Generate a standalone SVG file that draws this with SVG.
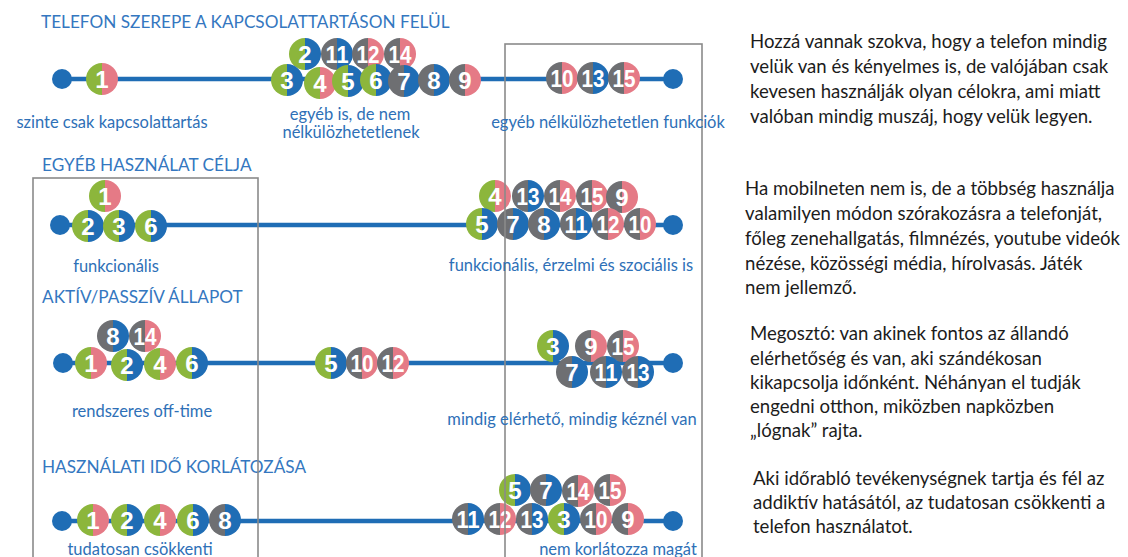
<svg xmlns="http://www.w3.org/2000/svg" xmlns:xlink="http://www.w3.org/1999/xlink" width="1128" height="557" viewBox="0 0 1128 557">
  <defs>
    <style>
      .axis { stroke: #1f6db5; stroke-width: 4.5; fill: none; }
      .dot { fill: #1f6db5; }
      .box { fill: none; stroke: #8a8a8a; stroke-width: 1.6; }
      .g { fill: #8cb63c; }
      .p { fill: #e57a86; }
      .k { fill: #6e6f72; }
      .b { fill: #1f6db5; }
      .num { font-family: "Liberation Sans", Arial, sans-serif; font-weight: bold; font-size: 24px; fill: #ffffff; text-anchor: middle; }
      .title { font-family: Lato, "Open Sans", sans-serif; font-size: 17.2px; fill: #3477c0; }
      .lbl { font-family: Lato, "Open Sans", sans-serif; font-size: 16.5px; fill: #2e70b7; text-anchor: middle; }
      .note { font-family: Lato, "Open Sans", sans-serif; font-size: 18.6px; fill: #1c1c1c; }
    </style>
    <!-- half discs, radius 16, split on the vertical diameter -->
    <path id="hl" d="M0,-16 A16,16 0 0 0 0,16 Z"/>
    <path id="hr" d="M0,-16 A16,16 0 0 1 0,16 Z"/>
  </defs>

  <rect width="1128" height="557" fill="#ffffff"/>

  <!-- section titles -->
  <text class="title" x="41" y="28">TELEFON SZEREPE A KAPCSOLATTARTÁSON FELÜL</text>
  <text class="title" x="42" y="171">EGYÉB HASZNÁLAT CÉLJA</text>
  <text class="title" x="42" y="303">AKTÍV/PASSZÍV ÁLLAPOT</text>
  <text class="title" x="42" y="473">HASZNÁLATI IDŐ KORLÁTOZÁSA</text>

  <!-- timelines -->
  <g id="connectors">
    <line class="axis" x1="62" y1="79" x2="673" y2="79"/>
    <circle class="dot" cx="62" cy="79" r="10"/>
    <circle class="dot" cx="673" cy="79" r="10"/>

    <line class="axis" x1="60" y1="225" x2="673" y2="225"/>
    <circle class="dot" cx="60" cy="225" r="10"/>
    <circle class="dot" cx="673" cy="225" r="10"/>

    <line class="axis" x1="63" y1="363" x2="673" y2="363"/>
    <circle class="dot" cx="63" cy="363" r="10"/>
    <circle class="dot" cx="673" cy="363" r="10"/>

    <line class="axis" x1="62" y1="521" x2="673" y2="521"/>
    <circle class="dot" cx="62" cy="521" r="10"/>
    <circle class="dot" cx="673" cy="521" r="10"/>
  </g>

  <!-- row 1: TELEFON SZEREPE -->
  <g id="row1">
    <g id="r1-n1" transform="translate(102,79)"><use href="#hl" class="g"/><use href="#hr" class="p"/><text class="num" y="8.5">1</text></g>
    <g id="r1-n2" transform="translate(305,54)"><use href="#hl" class="g"/><use href="#hr" class="b"/><text class="num" y="8.5">2</text></g>
    <g id="r1-n11" transform="translate(337,54)"><use href="#hl" class="k"/><use href="#hr" class="b"/><text class="num" y="8.5" textLength="23" lengthAdjust="spacingAndGlyphs">11</text></g>
    <g id="r1-n12" transform="translate(368,54)"><use href="#hl" class="k"/><use href="#hr" class="p"/><text class="num" y="8.5" textLength="23" lengthAdjust="spacingAndGlyphs">12</text></g>
    <g id="r1-n14" transform="translate(400,54)"><use href="#hl" class="k"/><use href="#hr" class="p"/><text class="num" y="8.5" textLength="23" lengthAdjust="spacingAndGlyphs">14</text></g>
    <g id="r1-n3" transform="translate(287,80)"><use href="#hl" class="g"/><use href="#hr" class="b"/><text class="num" y="8.5">3</text></g>
    <g id="r1-n4" transform="translate(320,83)"><use href="#hl" class="g"/><use href="#hr" class="p"/><text class="num" y="8.5">4</text></g>
    <g id="r1-n5" transform="translate(348,81)"><use href="#hl" class="g"/><use href="#hr" class="b"/><text class="num" y="8.5">5</text></g>
    <g id="r1-n6" transform="translate(376,80)"><use href="#hl" class="g"/><use href="#hr" class="b"/><text class="num" y="8.5">6</text></g>
    <g id="r1-n7" transform="translate(404,81)"><use href="#hl" class="k"/><use href="#hr" class="b"/><text class="num" y="8.5">7</text></g>
    <g id="r1-n8" transform="translate(434,80)"><use href="#hl" class="k"/><use href="#hr" class="b"/><text class="num" y="8.5">8</text></g>
    <g id="r1-n9" transform="translate(465,80)"><use href="#hl" class="k"/><use href="#hr" class="p"/><text class="num" y="8.5">9</text></g>
    <g id="r1-n10" transform="translate(562,78)"><use href="#hl" class="k"/><use href="#hr" class="p"/><text class="num" y="8.5" textLength="23" lengthAdjust="spacingAndGlyphs">10</text></g>
    <g id="r1-n13" transform="translate(593,78)"><use href="#hl" class="k"/><use href="#hr" class="b"/><text class="num" y="8.5" textLength="23" lengthAdjust="spacingAndGlyphs">13</text></g>
    <g id="r1-n15" transform="translate(624,78)"><use href="#hl" class="k"/><use href="#hr" class="p"/><text class="num" y="8.5" textLength="23" lengthAdjust="spacingAndGlyphs">15</text></g>
  </g>

  <!-- row 2: EGYÉB HASZNÁLAT CÉLJA -->
  <g id="row2">
    <g id="r2-n1" transform="translate(105,196)"><use href="#hl" class="g"/><use href="#hr" class="p"/><text class="num" y="8.5">1</text></g>
    <g id="r2-n2" transform="translate(88,226)"><use href="#hl" class="g"/><use href="#hr" class="b"/><text class="num" y="8.5">2</text></g>
    <g id="r2-n3" transform="translate(119,226)"><use href="#hl" class="g"/><use href="#hr" class="b"/><text class="num" y="8.5">3</text></g>
    <g id="r2-n6" transform="translate(151,226)"><use href="#hl" class="g"/><use href="#hr" class="b"/><text class="num" y="8.5">6</text></g>
    <g id="r2-n4" transform="translate(495,196)"><use href="#hl" class="g"/><use href="#hr" class="p"/><text class="num" y="8.5">4</text></g>
    <g id="r2-n13" transform="translate(528,196)"><use href="#hl" class="k"/><use href="#hr" class="b"/><text class="num" y="8.5" textLength="23" lengthAdjust="spacingAndGlyphs">13</text></g>
    <g id="r2-n14" transform="translate(560,196)"><use href="#hl" class="k"/><use href="#hr" class="p"/><text class="num" y="8.5" textLength="23" lengthAdjust="spacingAndGlyphs">14</text></g>
    <g id="r2-n15" transform="translate(592,196)"><use href="#hl" class="k"/><use href="#hr" class="p"/><text class="num" y="8.5" textLength="23" lengthAdjust="spacingAndGlyphs">15</text></g>
    <g id="r2-n9" transform="translate(622,197)"><use href="#hl" class="k"/><use href="#hr" class="p"/><text class="num" y="8.5">9</text></g>
    <g id="r2-n5" transform="translate(482,224)"><use href="#hl" class="g"/><use href="#hr" class="b"/><text class="num" y="8.5">5</text></g>
    <g id="r2-n7" transform="translate(513,224)"><use href="#hl" class="k"/><use href="#hr" class="b"/><text class="num" y="8.5">7</text></g>
    <g id="r2-n8" transform="translate(544,224)"><use href="#hl" class="k"/><use href="#hr" class="b"/><text class="num" y="8.5">8</text></g>
    <g id="r2-n11" transform="translate(576,224)"><use href="#hl" class="k"/><use href="#hr" class="b"/><text class="num" y="8.5" textLength="23" lengthAdjust="spacingAndGlyphs">11</text></g>
    <g id="r2-n12" transform="translate(608,224)"><use href="#hl" class="k"/><use href="#hr" class="p"/><text class="num" y="8.5" textLength="23" lengthAdjust="spacingAndGlyphs">12</text></g>
    <g id="r2-n10" transform="translate(640,224)"><use href="#hl" class="k"/><use href="#hr" class="p"/><text class="num" y="8.5" textLength="23" lengthAdjust="spacingAndGlyphs">10</text></g>
  </g>

  <!-- row 3: AKTÍV/PASSZÍV ÁLLAPOT -->
  <g id="row3">
    <g id="r3-n8" transform="translate(113,336)"><use href="#hl" class="k"/><use href="#hr" class="b"/><text class="num" y="8.5">8</text></g>
    <g id="r3-n14" transform="translate(145,336)"><use href="#hl" class="k"/><use href="#hr" class="p"/><text class="num" y="8.5" textLength="23" lengthAdjust="spacingAndGlyphs">14</text></g>
    <g id="r3-n1" transform="translate(91,363)"><use href="#hl" class="g"/><use href="#hr" class="p"/><text class="num" y="8.5">1</text></g>
    <g id="r3-n2" transform="translate(127,365)"><use href="#hl" class="g"/><use href="#hr" class="b"/><text class="num" y="8.5">2</text></g>
    <g id="r3-n4" transform="translate(160,364)"><use href="#hl" class="g"/><use href="#hr" class="p"/><text class="num" y="8.5">4</text></g>
    <g id="r3-n6" transform="translate(192,363)"><use href="#hl" class="g"/><use href="#hr" class="b"/><text class="num" y="8.5">6</text></g>
    <g id="r3-n5" transform="translate(331,363)"><use href="#hl" class="g"/><use href="#hr" class="b"/><text class="num" y="8.5">5</text></g>
    <g id="r3-n10" transform="translate(362,363)"><use href="#hl" class="k"/><use href="#hr" class="p"/><text class="num" y="8.5" textLength="23" lengthAdjust="spacingAndGlyphs">10</text></g>
    <g id="r3-n12" transform="translate(393,363)"><use href="#hl" class="k"/><use href="#hr" class="p"/><text class="num" y="8.5" textLength="23" lengthAdjust="spacingAndGlyphs">12</text></g>
    <g id="r3-n3" transform="translate(553,346)"><use href="#hl" class="g"/><use href="#hr" class="b"/><text class="num" y="8.5">3</text></g>
    <g id="r3-n9" transform="translate(591,346)"><use href="#hl" class="k"/><use href="#hr" class="p"/><text class="num" y="8.5">9</text></g>
    <g id="r3-n15" transform="translate(623,346)"><use href="#hl" class="k"/><use href="#hr" class="p"/><text class="num" y="8.5" textLength="23" lengthAdjust="spacingAndGlyphs">15</text></g>
    <g id="r3-n7" transform="translate(572,372)"><use href="#hl" class="k"/><use href="#hr" class="b"/><text class="num" y="8.5">7</text></g>
    <g id="r3-n11" transform="translate(606,372)"><use href="#hl" class="k"/><use href="#hr" class="b"/><text class="num" y="8.5" textLength="23" lengthAdjust="spacingAndGlyphs">11</text></g>
    <g id="r3-n13" transform="translate(638,372)"><use href="#hl" class="k"/><use href="#hr" class="b"/><text class="num" y="8.5" textLength="23" lengthAdjust="spacingAndGlyphs">13</text></g>
  </g>

  <!-- row 4: HASZNÁLATI IDŐ KORLÁTOZÁSA -->
  <g id="row4">
    <g id="r4-n1" transform="translate(93,520)"><use href="#hl" class="g"/><use href="#hr" class="p"/><text class="num" y="8.5">1</text></g>
    <g id="r4-n2" transform="translate(127,520)"><use href="#hl" class="g"/><use href="#hr" class="b"/><text class="num" y="8.5">2</text></g>
    <g id="r4-n4" transform="translate(160,520)"><use href="#hl" class="g"/><use href="#hr" class="p"/><text class="num" y="8.5">4</text></g>
    <g id="r4-n6" transform="translate(193,520)"><use href="#hl" class="g"/><use href="#hr" class="b"/><text class="num" y="8.5">6</text></g>
    <g id="r4-n8" transform="translate(225,520)"><use href="#hl" class="k"/><use href="#hr" class="b"/><text class="num" y="8.5">8</text></g>
    <g id="r4-n5" transform="translate(515,490)"><use href="#hl" class="g"/><use href="#hr" class="b"/><text class="num" y="8.5">5</text></g>
    <g id="r4-n7" transform="translate(546,490)"><use href="#hl" class="k"/><use href="#hr" class="b"/><text class="num" y="8.5">7</text></g>
    <g id="r4-n14" transform="translate(578,491)"><use href="#hl" class="k"/><use href="#hr" class="p"/><text class="num" y="8.5" textLength="23" lengthAdjust="spacingAndGlyphs">14</text></g>
    <g id="r4-n15" transform="translate(610,490)"><use href="#hl" class="k"/><use href="#hr" class="p"/><text class="num" y="8.5" textLength="23" lengthAdjust="spacingAndGlyphs">15</text></g>
    <g id="r4-n11" transform="translate(468,519)"><use href="#hl" class="k"/><use href="#hr" class="b"/><text class="num" y="8.5" textLength="23" lengthAdjust="spacingAndGlyphs">11</text></g>
    <g id="r4-n12" transform="translate(500,519)"><use href="#hl" class="k"/><use href="#hr" class="p"/><text class="num" y="8.5" textLength="23" lengthAdjust="spacingAndGlyphs">12</text></g>
    <g id="r4-n13" transform="translate(532,519)"><use href="#hl" class="k"/><use href="#hr" class="b"/><text class="num" y="8.5" textLength="23" lengthAdjust="spacingAndGlyphs">13</text></g>
    <g id="r4-n3" transform="translate(564,519)"><use href="#hl" class="g"/><use href="#hr" class="b"/><text class="num" y="8.5">3</text></g>
    <g id="r4-n10" transform="translate(596,519)"><use href="#hl" class="k"/><use href="#hr" class="p"/><text class="num" y="8.5" textLength="23" lengthAdjust="spacingAndGlyphs">10</text></g>
    <g id="r4-n9" transform="translate(628,519)"><use href="#hl" class="k"/><use href="#hr" class="p"/><text class="num" y="8.5">9</text></g>
  </g>

  <!-- grouping frames -->
  <g id="frames">
    <rect class="box" x="505" y="44" width="197" height="540"/>
    <rect class="box" x="33" y="178" width="225" height="400"/>
  </g>

  <!-- axis end labels -->
  <g id="labels">
    <text class="lbl" x="112" y="128">szinte csak kapcsolattartás</text>
    <text class="lbl" x="350" y="120">egyéb is, de nem</text>
    <text class="lbl" x="351" y="138">nélkülözhetetlenek</text>
    <text class="lbl" x="608" y="128">egyéb nélkülözhetetlen funkciók</text>
    <text class="lbl" x="116" y="272">funkcionális</text>
    <text class="lbl" x="571" y="271">funkcionális, érzelmi és szociális is</text>
    <text class="lbl" x="142" y="417">rendszeres off-time</text>
    <text class="lbl" x="572" y="425">mindig elérhető, mindig kéznél van</text>
    <text class="lbl" x="140" y="555">tudatosan csökkenti</text>
    <text class="lbl" x="618" y="555">nem korlátozza magát</text>
  </g>

  <!-- commentary -->
  <g id="notes">
    <text class="note" x="750" y="48">Hozzá vannak szokva, hogy a telefon mindig</text>
    <text class="note" x="750" y="73">velük van és kényelmes is, de valójában csak</text>
    <text class="note" x="750" y="98">kevesen használják olyan célokra, ami miatt</text>
    <text class="note" x="750" y="123">valóban mindig muszáj, hogy velük legyen.</text>

    <text class="note" x="745" y="195">Ha mobilneten nem is, de a többség használja</text>
    <text class="note" x="745" y="220">valamilyen módon szórakozásra a telefonját,</text>
    <text class="note" x="745" y="245">főleg zenehallgatás, filmnézés, youtube videók</text>
    <text class="note" x="745" y="270">nézése, közösségi média, hírolvasás. Játék</text>
    <text class="note" x="745" y="294">nem jellemző.</text>

    <text class="note" x="750" y="340">Megosztó: van akinek fontos az állandó</text>
    <text class="note" x="750" y="365">elérhetőség és van, aki szándékosan</text>
    <text class="note" x="750" y="389">kikapcsolja időnként. Néhányan el tudják</text>
    <text class="note" x="750" y="413">engedni otthon, miközben napközben</text>
    <text class="note" x="750" y="437">„lógnak” rajta.</text>

    <text class="note" x="753" y="485">Aki időrabló tevékenységnek tartja és fél az</text>
    <text class="note" x="753" y="509">addiktív hatásától, az tudatosan csökkenti a</text>
    <text class="note" x="753" y="533">telefon használatot.</text>
  </g>
</svg>
